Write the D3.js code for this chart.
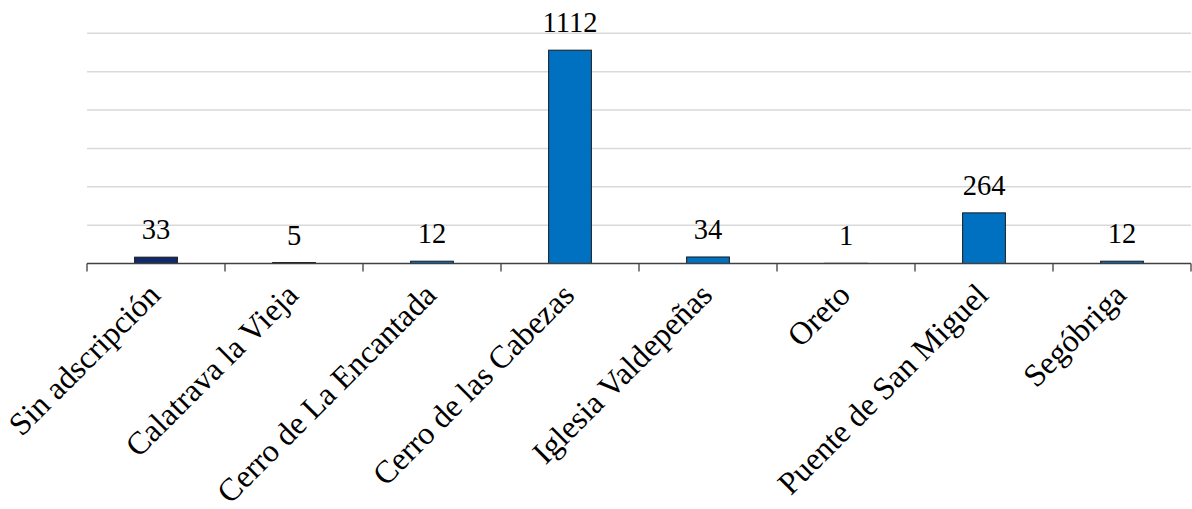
<!DOCTYPE html>
<html lang="en">
<head>
<meta charset="utf-8">
<title>chart</title>
<script src="https://cdn.jsdelivr.net/npm/d3@7"></script>
<style>
  body { margin: 0; background: #fff; }
  text { font-family: "Liberation Serif", "Times New Roman", serif; }
</style>
</head>
<body>
<script>
// data
var categories = ["Sin adscripción", "Calatrava la Vieja", "Cerro de La Encantada",
  "Cerro de las Cabezas", "Iglesia Valdepeñas", "Oreto", "Puente de San Miguel", "Segóbriga"];
var values = [33, 5, 12, 1112, 34, 1, 264, 12];
var yTicks = [0, 200, 400, 600, 800, 1000, 1200];

var w = 1192, h = 509;
var plotLeft = 87, plotRight = 1191, plotTop = 33.3, base = 263.5;

var svg = d3.select("body").append("svg")
  .attr("width", w)
  .attr("height", h);

var xScale = d3.scaleBand()
  .domain(categories)
  .range([plotLeft, plotRight])
  .paddingInner(0.69)
  .paddingOuter(0.345);

var yScale = d3.scaleLinear()
  .domain([0, 1200])
  .range([base, plotTop]);

// gridlines
svg.append("g")
  .selectAll("line")
  .data(yTicks.slice(1))
  .enter()
  .append("line")
  .attr("x1", plotLeft)
  .attr("x2", plotRight)
  .attr("y1", function(d) { return yScale(d); })
  .attr("y2", function(d) { return yScale(d); })
  .attr("stroke", "#d9d9d9")
  .attr("stroke-width", 1.5);

// bars
svg.append("g")
  .selectAll("rect")
  .data(values)
  .enter()
  .append("rect")
  .attr("x", function(d, i) { return xScale(categories[i]); })
  .attr("y", function(d) { return yScale(d); })
  .attr("width", xScale.bandwidth())
  .attr("height", function(d) { return base - yScale(d); })
  .attr("fill", function(d, i) { return i === 0 ? "#10296b" : "#0070c0"; })
  .attr("stroke", "#1a1a1a")
  .attr("stroke-width", 1);

// value labels
svg.append("g")
  .selectAll("text")
  .data(values)
  .enter()
  .append("text")
  .attr("x", function(d, i) { return xScale(categories[i]) + xScale.bandwidth() / 2; })
  .attr("y", function(d) { return yScale(d) - 18; })
  .attr("text-anchor", "middle")
  .style("font-size", "28.5px")
  .style("fill", "#000")
  .text(function(d) { return d; });

// x axis with ticks at band boundaries
var step = xScale.step();
var tickPos = d3.range(categories.length + 1).map(function(i) { return plotLeft + i * step; });

var axis = svg.append("g");
axis.append("line")
  .attr("x1", plotLeft)
  .attr("x2", plotRight)
  .attr("y1", base)
  .attr("y2", base)
  .attr("stroke", "#404040")
  .attr("stroke-width", 1.3);
axis.selectAll(".tick")
  .data(tickPos)
  .enter()
  .append("line")
  .attr("class", "tick")
  .attr("x1", function(d) { return d; })
  .attr("x2", function(d) { return d; })
  .attr("y1", base)
  .attr("y2", base + 8)
  .attr("stroke", "#404040")
  .attr("stroke-width", 1.3);

// rotated category labels
svg.append("g")
  .selectAll("text")
  .data(categories)
  .enter()
  .append("text")
  .attr("transform", function(d) {
    var cx = xScale(d) + xScale.bandwidth() / 2;
    return "translate(" + (cx + 6) + "," + 297 + ") rotate(-45)";
  })
  .attr("text-anchor", "end")
  .style("font-size", "32px")
  .style("fill", "#000")
  .text(function(d) { return d; });
</script>
</body>
</html>
